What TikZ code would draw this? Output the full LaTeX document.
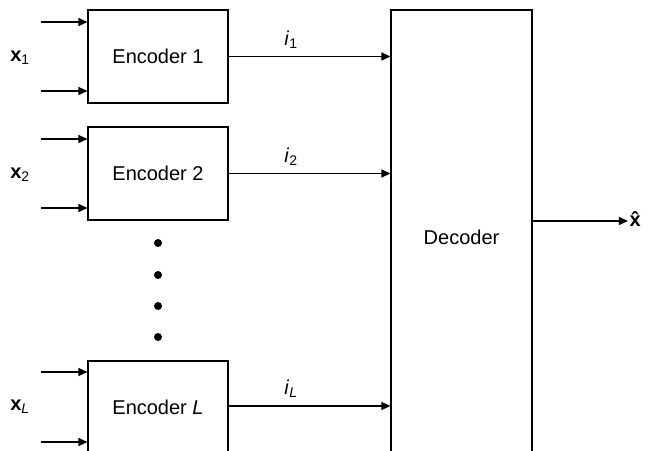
\documentclass[tikz,border=0pt]{standalone}
\usepackage{fontspec}
\setmainfont{Liberation Sans}
\usetikzlibrary{arrows.meta}
\begin{document}
\begin{tikzpicture}[x=1pt,y=-1pt,
  every node/.style={font=\fontsize{20}{24}\selectfont},
  block/.style={draw, line width=1.1pt, minimum width=140pt, inner sep=0pt},
  link/.style={line width=1.1pt, -{Triangle[length=9pt,width=8pt]}},
  dot/.style={circle, fill, inner sep=0pt, minimum size=8pt}]
\useasboundingbox (0,0) rectangle (648,450);
\clip (0,0) rectangle (648,450);

% encoders and decoder
\node[block, minimum height=93pt] (e1) at (158,56.5) {Encoder 1};
\node[block, minimum height=93pt] (e2) at (158,173.5) {Encoder 2};
\node[block, minimum height=93pt] (eL) at (158,407.5) {Encoder \textit{L}};
\node[block, minimum width=141pt, minimum height=455pt] (dec) at (461.5,237.5) {Decoder};

% ellipsis between encoder 2 and encoder L
\node[dot] (d1) at (158,243) {};
\node[dot] (d2) at (158,275) {};
\node[dot] (d3) at (158,306) {};
\node[dot] (d4) at (158,337) {};

% source labels
\node (x1) at (20,58) {\textbf{x}\textsubscript{1}};
\node (x2) at (20,175) {\textbf{x}\textsubscript{2}};
\node (xL) at (20,407) {\textbf{x}\textsubscript{\textit{L}}};

% input arrows into each encoder
\coordinate (a1) at (41,22);  \coordinate (b1) at (41,91);
\coordinate (a2) at (41,139); \coordinate (b2) at (41,208);
\coordinate (aL) at (41,372); \coordinate (bL) at (41,442);
\foreach \c/\e in {a1/e1,b1/e1,a2/e2,b2/e2,aL/eL,bL/eL}
  \draw[link] (\c) -- (\c -| \e.west);

% encoder outputs to decoder
\draw[link] (e1.east) -- (e1.east -| dec.west);
\draw[link] (e2.east) -- (e2.east -| dec.west);
\draw[link] (eL.east |- 0,406) -- (dec.west |- 0,406);
\node (i1) at (291,40) {\textit{i}\textsubscript{1}};
\node (i2) at (291,157) {\textit{i}\textsubscript{2}};
\node (iL) at (291,389) {\textit{i}\textsubscript{\textit{L}}};

% decoder output
\node[inner sep=1.5pt] (xh) at (637,219) {\textbf{\^{x}}};
\draw[link] (dec.east |- 0,221) -- (xh.west |- 0,221);
\end{tikzpicture}
\end{document}
